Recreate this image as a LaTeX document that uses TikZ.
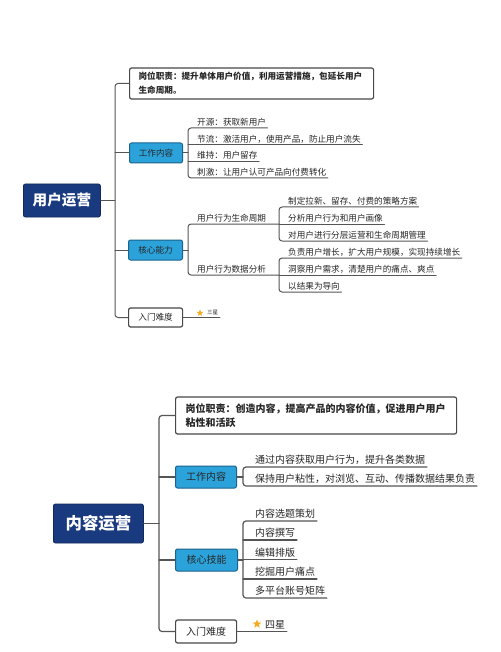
\documentclass[tikz,border=0pt]{standalone}
\usepackage{fontspec}
\setmainfont{Noto Sans CJK SC}
\usetikzlibrary{shapes.geometric}
\definecolor{ink}{RGB}{38,38,38}
\definecolor{linec}{RGB}{85,85,85}
\definecolor{navy}{RGB}{26,58,128}
\definecolor{sky}{RGB}{44,162,218}
\definecolor{skyrim}{RGB}{28,98,140}
\definecolor{gold}{RGB}{246,172,30}
\tikzset{
  every picture/.style={line cap=round, line join=round},
  % Verbindungen
  link/.style={draw=linec, line width=1.1pt, rounded corners=3pt},
  % Kaesten
  root/.style={fill=navy, draw=navy!70!black, line width=0.8pt, rounded corners=2pt,
    text=white, font=\bfseries, inner sep=0pt, anchor=west},
  duty/.style={fill=white, draw=linec!85!black, line width=1.2pt, rounded corners=2pt,
    text=ink, font=\bfseries, align=left, inner xsep=9pt, inner ysep=0pt, anchor=west},
  topic/.style={fill=sky, draw=skyrim, line width=1pt, rounded corners=2pt,
    text=ink, inner sep=0pt, anchor=west},
  entrybox/.style={fill=white, draw=linec!85!black, line width=1.2pt, rounded corners=2pt,
    text=ink, inner sep=0pt, anchor=west},
  % Unterstrichene Zweige: Knoten beginnt an der Klammer
  leaf/.style={anchor=south west, text=ink, inner xsep=0pt, inner ysep=1.5pt, text depth=1pt,
    execute at begin node={\hspace*{#1}}, execute at end node={\hspace*{1.5pt}}},
  leaf/.default=9pt,
  starmark/.style={star, star points=5, star point ratio=2.3, fill=gold, inner sep=0pt,
    minimum size=#1},
}
\begin{document}
\begin{tikzpicture}[x=1pt, y=-1pt]
  \fill[white] (0,0) rectangle (500,652);
  \useasboundingbox (0,0) rectangle (500,652);
  % ---- oben: 用户运营
  \begin{scope}[node font=\fontsize{8.6}{14}\selectfont, link/.append style={line width=1pt}]
    \node[root, minimum width=77, minimum height=33, font=\bfseries\fontsize{14.6}{16}\selectfont] (op1) at (23,200.5) {用户运营};
    \node[duty, minimum width=244, minimum height=31, text width=226] (duty1) at (129,83.5)
      {岗位职责：提升单体用户价值，利用运营措施，包延长用户\\生命周期。};
    \node[topic, minimum width=53, minimum height=20] (work1) at (129,153) {工作内容};
    \node[topic, minimum width=54, minimum height=20] (core1) at (128,250) {核心能力};
    \node[entrybox, minimum width=54, minimum height=19] (entry1) at (128,317.5) {入门难度};
    % Blaetter
    \node[leaf] (w11) at (188,128) {开源：获取新用户};
    \node[leaf] (w12) at (188,145) {节流：激活用户，使用产品，防止用户流失};
    \node[leaf] (w13) at (188,161.5) {维持：用户留存};
    \node[leaf] (w14) at (188,178) {刺激：让用户认可产品向付费转化};
    \node[leaf] (c11) at (188,224) {用户行为生命周期};
    \node[leaf] (c12) at (188,275) {用户行为数据分析};
    \node[leaf] (s11) at (279,207) {制定拉新、留存、付费的策略方案};
    \node[leaf] (s12) at (279,224) {分析用户行为和用户画像};
    \node[leaf] (s13) at (279,241) {对用户进行分层运营和生命周期管理};
    \node[leaf] (s21) at (279,258) {负责用户增长，扩大用户规模，实现持续增长};
    \node[leaf] (s22) at (279,275) {洞察用户需求，清楚用户的痛点、爽点};
    \node[leaf] (s23) at (279,292) {以结果为导向};
    \node[leaf=25pt, font=\fontsize{5.5}{6}\selectfont] (e1) at (182,317.5) {三星};
    \node[starmark=7pt] (st1) at (200,313) {};
    % Verbindungen
    \coordinate (t1) at (115,200.5);
    \draw[link] (op1.east) -- (t1);
    \draw[link] (duty1.west) -| (t1) |- (entry1.west);
    \draw[link] (work1.west) -- (work1.west -| t1);
    \draw[link] (core1.west) -- (core1.west -| t1);
    \draw[link] (work1.east) -- (work1.east -| w11.south west);
    \draw[link] (w11.south east) -- (w11.south west) -- (w14.south west) -- (w14.south east);
    \foreach \n in {w12,w13} \draw[link] (\n.south west) -- (\n.south east);
    \draw[link] (core1.east) -- (core1.east -| c11.south west);
    \draw[link] (s12.south west) -- (c11.south west) -- (c12.south west) -- (s22.south west);
    \draw[link] (s11.south east) -- (s11.south west) -- (s13.south west) -- (s13.south east);
    \draw[link] (s12.south west) -- (s12.south east);
    \draw[link] (s21.south east) -- (s21.south west) -- (s23.south west) -- (s23.south east);
    \draw[link] (s22.south west) -- (s22.south east);
    \draw[link] (entry1.east) -- (e1.south east);
  \end{scope}
  % ---- unten: 内容运营
  \begin{scope}[node font=\fontsize{10}{14}\selectfont, leaf/.append style={inner ysep=2pt},
      link/.append style={line width=1.2pt}]
    \node[root, minimum width=90, minimum height=39, font=\bfseries\fontsize{16.4}{18}\selectfont] (op2) at (53,523.5) {内容运营};
    \node[duty, minimum width=281, minimum height=37, text width=261, inner xsep=10pt] (duty2) at (175,415.5)
      {岗位职责：创造内容，提高产品的内容价值，促进用户用户\\粘性和活跃};
    \node[topic, minimum width=61, minimum height=22] (work2) at (175,477) {工作内容};
    \node[topic, minimum width=62, minimum height=22] (core2) at (175,560) {核心技能};
    \node[entrybox, minimum width=61, minimum height=23] (entry2) at (175,631.5) {入门难度};
    % Blaetter
    \node[leaf=12pt] (w21) at (243,467) {通过内容获取用户行为，提升各类数据};
    \node[leaf=12pt] (w22) at (243,486) {保持用户粘性，对浏览、互动、传播数据结果负责};
    \node[leaf=12pt] (k21) at (243,521) {内容选题策划};
    \node[leaf=12pt] (k22) at (243,540) {内容撰写};
    \node[leaf=12pt] (k23) at (243,559.5) {编辑排版};
    \node[leaf=12pt] (k24) at (243,579) {挖掘用户痛点};
    \node[leaf=12pt] (k25) at (243,598) {多平台账号矩阵};
    \node[leaf=29pt] (e2) at (236,631.5) {四星};
    \node[starmark=9pt] (st2) at (257,624) {};
    % Verbindungen
    \coordinate (t2) at (159,523.5);
    \draw[link] (op2.east) -- (t2);
    \draw[link] (duty2.west) -| (t2) |- (entry2.west);
    \draw[link] (work2.west) -- (work2.west -| t2);
    \draw[link] (core2.west) -- (core2.west -| t2);
    \draw[link] (work2.east) -- (work2.east -| w21.south west);
    \draw[link] (w21.south east) -- (w21.south west) -- (w22.south west) -- (w22.south east);
    \draw[link] (core2.east) -- (core2.east -| k21.south west);
    \draw[link] (k21.south east) -- (k21.south west) -- (k25.south west) -- (k25.south east);
    \foreach \n in {k22,k23,k24} \draw[link] (\n.south west) -- (\n.south east);
    \draw[link] (entry2.east) -- (e2.south east);
  \end{scope}
\end{tikzpicture}
\end{document}
